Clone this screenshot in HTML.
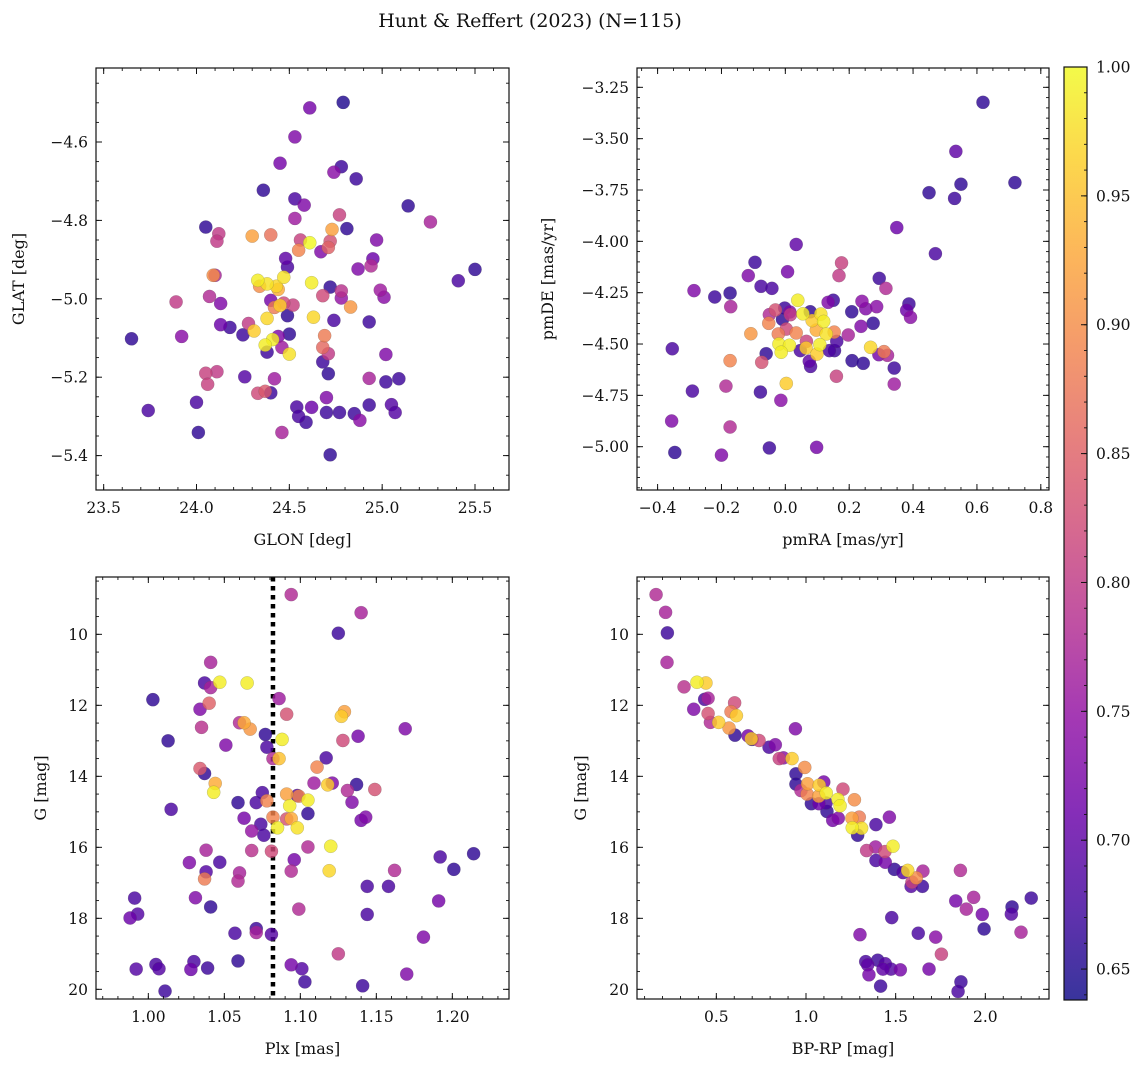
<!DOCTYPE html>
<html><head><meta charset="utf-8"><style>
html,body{margin:0;padding:0;background:#fff;}
svg text{font-family:"DejaVu Serif","Liberation Serif",serif;fill:#111;}
</style></head><body>
<svg id="fig" width="1148" height="1067" viewBox="0 0 1148 1067" xmlns="http://www.w3.org/2000/svg">
<defs><linearGradient id="cbgrad" x1="0" y1="1" x2="0" y2="0">
<stop offset="0" stop-color="#0d0887"/><stop offset="0.1" stop-color="#41049d"/><stop offset="0.2" stop-color="#6a00a8"/><stop offset="0.3" stop-color="#8f0da4"/><stop offset="0.4" stop-color="#b12a90"/><stop offset="0.5" stop-color="#cc4778"/><stop offset="0.6" stop-color="#e16462"/><stop offset="0.7" stop-color="#f2844b"/><stop offset="0.8" stop-color="#fca636"/><stop offset="0.9" stop-color="#fcce25"/><stop offset="1" stop-color="#f0f921"/></linearGradient></defs>
<text x="530" y="27" font-size="19" text-anchor="middle">Hunt &amp; Reffert (2023) (N=115)</text>
</svg>
<script>
// ---------- Panel 1 data: GLON / GLAT ----------
const p1Glon=[24.61,24.79,24.53,24.45,24.78,24.74,24.86,24.36,24.53,24.58,25.14,24.53,24.77,25.26,24.05,24.81,24.12,24.11,24.30,24.40,24.73,24.56,24.61,24.55,24.72,24.71,24.67,24.97,24.48,24.49,24.95,24.94,24.87,25.41,25.50,24.09,24.10,24.33,24.38,24.43,24.47,24.44,24.34,24.62,24.72,24.78,24.78,24.68,24.99,25.01,24.07,23.89,24.13,24.40,24.47,24.52,24.42,24.45,24.83,24.49,24.38,24.63,24.74,24.93,24.13,24.18,24.28,24.31,24.25,24.50,24.44,23.92,23.65,24.69,24.41,24.37,24.46,24.38,24.50,24.68,24.71,25.02,24.68,24.71,24.05,24.11,24.06,24.26,24.42,24.93,25.02,25.09,24.33,24.37,24.40,24.70,24.00,23.74,24.54,24.62,24.70,24.77,24.85,24.88,24.93,25.05,25.07,24.55,24.59,24.01,24.46,24.72];
const p1Glat=[-4.513,-4.499,-4.587,-4.654,-4.663,-4.677,-4.694,-4.723,-4.745,-4.761,-4.763,-4.795,-4.786,-4.804,-4.817,-4.821,-4.834,-4.853,-4.84,-4.837,-4.823,-4.85,-4.857,-4.876,-4.853,-4.869,-4.88,-4.85,-4.897,-4.919,-4.898,-4.916,-4.924,-4.954,-4.925,-4.94,-4.94,-4.953,-4.962,-4.968,-4.945,-4.976,-4.968,-4.959,-4.97,-4.98,-4.998,-4.992,-4.978,-4.996,-4.994,-5.008,-5.012,-5.004,-5.011,-5.016,-5.022,-5.017,-5.021,-5.043,-5.05,-5.047,-5.055,-5.059,-5.066,-5.073,-5.063,-5.082,-5.092,-5.09,-5.096,-5.096,-5.102,-5.094,-5.104,-5.118,-5.124,-5.136,-5.141,-5.124,-5.14,-5.142,-5.161,-5.191,-5.19,-5.186,-5.218,-5.199,-5.204,-5.203,-5.212,-5.204,-5.241,-5.236,-5.24,-5.252,-5.264,-5.285,-5.276,-5.277,-5.29,-5.29,-5.293,-5.31,-5.271,-5.27,-5.29,-5.30,-5.315,-5.341,-5.341,-5.398];
const p1Prob=[0.72,0.65,0.73,0.72,0.67,0.74,0.67,0.66,0.68,0.73,0.66,0.76,0.81,0.77,0.66,0.66,0.80,0.80,0.92,0.87,0.92,0.81,1.0,0.89,0.83,0.85,0.73,0.73,0.70,0.68,0.71,0.78,0.73,0.68,0.66,0.90,0.77,0.99,0.98,0.97,0.98,0.93,0.90,0.99,0.66,0.79,0.75,0.82,0.76,0.74,0.78,0.80,0.73,0.72,0.82,0.81,0.88,0.96,0.91,0.66,0.97,0.97,0.68,0.67,0.71,0.67,0.80,0.96,0.67,0.66,0.73,0.74,0.66,0.88,0.99,0.99,0.76,0.67,0.98,0.86,0.80,0.73,0.67,0.66,0.81,0.80,0.81,0.69,0.76,0.77,0.67,0.67,0.82,0.84,0.67,0.73,0.68,0.68,0.68,0.71,0.67,0.67,0.67,0.74,0.67,0.69,0.69,0.68,0.67,0.66,0.77,0.66];
// ---------- Panel 2 data: pmRA / pmDE ----------
const p2Pmra=[0.619,0.534,0.550,0.719,0.450,0.530,0.349,0.470,0.034,-0.095,0.007,-0.116,0.176,0.168,-0.286,-0.221,-0.173,-0.171,-0.076,-0.042,0.294,0.315,0.039,0.150,0.134,0.240,0.252,0.286,0.208,0.387,0.380,0.392,-0.002,0.014,0.078,0.055,0.111,-0.031,-0.050,0.016,-0.009,-0.052,0.084,0.120,0.003,0.034,0.097,0.128,0.153,-0.108,-0.022,0.197,0.237,0.275,0.066,0.161,-0.020,0.013,0.108,0.065,0.047,0.099,0.138,0.154,-0.013,-0.060,0.267,0.293,0.309,0.320,0.209,0.244,0.341,0.075,0.079,-0.173,-0.074,-0.354,0.160,0.341,0.003,-0.291,-0.186,-0.078,-0.014,-0.356,-0.173,-0.050,0.098,-0.346,-0.200];
const p2Pmde=[-3.323,-3.562,-3.722,-3.714,-3.763,-3.791,-3.933,-4.06,-4.015,-4.102,-4.148,-4.167,-4.105,-4.167,-4.24,-4.271,-4.252,-4.318,-4.219,-4.229,-4.18,-4.229,-4.287,-4.287,-4.297,-4.292,-4.328,-4.318,-4.343,-4.305,-4.336,-4.37,-4.325,-4.344,-4.343,-4.353,-4.354,-4.334,-4.357,-4.357,-4.38,-4.399,-4.386,-4.39,-4.427,-4.446,-4.432,-4.451,-4.442,-4.45,-4.451,-4.456,-4.414,-4.399,-4.487,-4.487,-4.50,-4.506,-4.503,-4.519,-4.532,-4.549,-4.532,-4.532,-4.54,-4.547,-4.516,-4.552,-4.537,-4.555,-4.581,-4.594,-4.617,-4.584,-4.609,-4.581,-4.589,-4.523,-4.657,-4.695,-4.692,-4.729,-4.705,-4.734,-4.774,-4.875,-4.904,-5.006,-5.003,-5.028,-5.041];
const p2Prob=[0.66,0.70,0.66,0.66,0.66,0.67,0.71,0.68,0.70,0.67,0.72,0.73,0.81,0.80,0.73,0.67,0.66,0.77,0.68,0.68,0.67,0.78,0.99,0.67,0.73,0.74,0.73,0.74,0.66,0.67,0.71,0.74,0.67,0.73,0.66,0.99,0.98,0.83,0.78,0.80,0.66,0.89,0.96,0.99,0.82,0.89,0.93,0.98,0.89,0.91,0.88,0.77,0.73,0.66,0.81,0.68,0.99,0.99,0.99,0.96,0.68,0.96,0.68,0.67,0.99,0.66,0.97,0.72,0.88,0.77,0.66,0.66,0.67,0.70,0.68,0.89,0.83,0.68,0.81,0.76,0.96,0.68,0.78,0.67,0.74,0.73,0.78,0.67,0.72,0.66,0.73];
// ---------- Panel 3 data: Plx / G ----------
const p3Plx=[1.094,1.140,1.125,1.041,1.037,1.047,1.065,1.041,1.003,1.086,1.040,1.034,1.091,1.129,1.127,1.035,1.060,1.063,1.067,1.169,1.013,1.077,1.078,1.088,1.051,1.128,1.138,1.082,1.086,1.117,1.111,1.034,1.037,1.044,1.043,1.109,1.121,1.118,1.137,1.131,1.149,1.075,1.059,1.071,1.078,1.091,1.098,1.099,1.105,1.093,1.134,1.015,1.105,1.063,1.082,1.091,1.094,1.140,1.143,1.074,1.085,1.098,1.068,1.076,1.038,1.068,1.081,1.105,1.120,1.027,1.047,1.096,1.192,1.214,1.038,1.037,1.060,1.059,1.094,1.119,1.162,1.201,1.144,1.158,0.991,1.031,1.041,1.099,1.191,0.993,0.988,1.144,1.057,1.071,1.071,1.081,1.181,1.125,1.059,1.005,1.007,0.992,1.030,1.028,1.039,1.094,1.101,1.170,1.103,1.141,1.011];
const p3G=[8.88,9.39,9.97,10.79,11.37,11.35,11.37,11.50,11.84,11.81,11.94,12.11,12.25,12.18,12.31,12.62,12.49,12.49,12.67,12.66,13.00,12.82,13.18,12.96,13.12,12.99,12.87,13.50,13.50,13.48,13.74,13.78,13.92,14.20,14.45,14.19,14.19,14.24,14.23,14.40,14.37,14.46,14.74,14.74,14.69,14.50,14.54,14.56,14.67,14.83,14.73,14.93,15.05,15.18,15.15,15.20,15.19,15.24,15.15,15.35,15.45,15.45,15.54,15.66,16.08,16.09,16.11,15.99,15.97,16.43,16.42,16.35,16.27,16.18,16.69,16.89,16.72,16.95,16.67,16.66,16.65,16.62,17.10,17.10,17.43,17.42,17.68,17.74,17.51,17.88,17.99,17.89,18.42,18.29,18.40,18.45,18.53,19.00,19.20,19.30,19.42,19.43,19.22,19.44,19.40,19.31,19.42,19.57,19.79,19.90,20.05];
const p3Prob=[0.78,0.77,0.67,0.77,0.68,0.99,0.99,0.77,0.66,0.76,0.85,0.73,0.83,0.92,0.96,0.79,0.78,0.93,0.91,0.73,0.66,0.66,0.68,0.99,0.73,0.82,0.72,0.78,0.95,0.68,0.89,0.84,0.66,0.93,0.99,0.76,0.73,0.96,0.66,0.78,0.83,0.68,0.66,0.68,0.89,0.92,0.69,0.89,0.99,0.99,0.73,0.68,0.66,0.72,0.89,0.83,0.93,0.72,0.73,0.68,0.99,0.98,0.75,0.68,0.77,0.79,0.82,0.78,0.99,0.73,0.68,0.72,0.68,0.66,0.69,0.88,0.77,0.78,0.78,0.97,0.78,0.66,0.68,0.68,0.68,0.73,0.66,0.78,0.72,0.69,0.71,0.68,0.68,0.67,0.77,0.69,0.73,0.80,0.66,0.68,0.69,0.69,0.68,0.71,0.67,0.72,0.69,0.73,0.67,0.67,0.67];
const p3RefPlx=1.082;
// ---------- Panel 4 data: BP-RP / G ----------
const p4Bprp=[0.164,0.217,0.227,0.225,0.320,0.392,0.442,0.435,0.454,0.374,0.602,0.582,0.612,0.454,0.467,0.513,0.571,0.604,0.941,0.677,0.699,0.695,0.738,0.794,0.829,0.851,0.874,0.922,0.993,0.944,0.944,1.099,0.972,1.009,1.074,1.206,1.006,1.071,1.113,1.178,1.270,1.190,1.030,1.072,1.112,1.117,1.149,1.180,1.256,1.297,1.258,1.310,1.288,1.390,1.465,1.338,1.388,1.440,1.485,1.390,1.442,1.493,1.541,1.567,1.652,1.615,1.591,1.586,1.649,1.861,1.835,1.935,1.894,1.983,2.149,2.145,2.256,2.199,1.993,1.478,1.301,1.626,1.723,1.755,1.333,1.344,1.400,1.442,1.429,1.474,1.351,1.526,1.686,1.416,1.864,1.848];
const p4G=[8.88,9.38,9.96,10.79,11.48,11.35,11.37,11.83,11.80,12.11,11.93,12.18,12.29,12.23,12.48,12.48,12.64,12.84,12.66,12.86,12.96,12.94,12.99,13.18,13.11,13.50,13.48,13.50,13.75,13.93,14.22,14.16,14.40,14.21,14.25,14.36,14.50,14.56,14.47,14.65,14.66,14.83,14.77,14.77,14.75,14.99,15.24,15.18,15.18,15.15,15.45,15.46,15.66,15.36,15.15,16.09,15.99,16.12,15.97,16.37,16.42,16.62,16.71,16.65,16.67,16.86,16.98,17.10,17.10,16.65,17.51,17.41,17.74,17.89,17.68,17.88,17.43,18.39,18.30,17.98,18.46,18.42,18.53,19.01,19.22,19.31,19.18,19.28,19.43,19.43,19.59,19.45,19.43,19.91,19.79,20.06];
const p4Prob=[0.78,0.77,0.67,0.77,0.79,0.99,0.96,0.68,0.77,0.73,0.82,0.88,0.96,0.83,0.78,0.96,0.91,0.66,0.73,0.72,0.66,0.96,0.82,0.68,0.73,0.81,0.74,0.96,0.90,0.66,0.66,0.72,0.78,0.92,0.96,0.82,0.89,0.92,0.99,0.99,0.90,0.99,0.66,0.71,0.68,0.66,0.72,0.73,0.92,0.88,0.99,0.98,0.66,0.68,0.73,0.80,0.76,0.82,0.99,0.68,0.72,0.66,0.69,0.97,0.77,0.90,0.81,0.69,0.67,0.78,0.72,0.77,0.77,0.72,0.66,0.69,0.67,0.77,0.66,0.68,0.73,0.68,0.74,0.81,0.68,0.70,0.67,0.69,0.70,0.69,0.72,0.72,0.72,0.67,0.67,0.68];
// ---------- Tick values ----------
const p1XTicks=[23.5,24.0,24.5,25.0,25.5];
const p1YTicks=[-4.6,-4.8,-5.0,-5.2,-5.4];
const p2XTicks=[-0.4,-0.2,0.0,0.2,0.4,0.6,0.8];
const p2YTicks=[-3.25,-3.5,-3.75,-4.0,-4.25,-4.5,-4.75,-5.0];
const p3XTicks=[1.00,1.05,1.10,1.15,1.20];
const gTicks=[10,12,14,16,18,20];
const p4XTicks=[0.5,1.0,1.5,2.0];
const cbTicks=[0.65,0.70,0.75,0.80,0.85,0.90,0.95,1.00];
const cbMin=0.638, cbMax=1.0;

const NS="http://www.w3.org/2000/svg";
const fig=document.getElementById('fig');
function mk(tag,attrs,parent){const e=document.createElementNS(NS,tag);for(const k in attrs)e.setAttribute(k,attrs[k]);(parent||fig).appendChild(e);return e;}
function lin(d0,r0,d1,r1){return v=>r0+(v-d0)*(r1-r0)/(d1-d0);}
const stops=[[13,8,135],[65,4,157],[106,0,168],[143,13,164],[177,42,144],[204,71,120],[225,100,98],[242,132,75],[252,166,54],[252,206,37],[240,249,33]];
function plasma(p){let t=(p-cbMin)/(cbMax-cbMin);t=Math.max(0,Math.min(1,t))*10;const i=Math.min(9,Math.floor(t)),f=t-i;const a=stops[i],b=stops[i+1];return 'rgb('+a.map((c,j)=>Math.round(c+(b[j]-c)*f)).join(',')+')';}
function fmt(v,d){return (v<0?'\u2212':'')+Math.abs(v).toFixed(d);}

function panel(o){
  const g=mk('g',{});
  
  
  const {L,R,T,B}=o;
  const sx=o.sx, sy=o.sy;
  const clipId=o.name+'-clip';
  const cp=mk('clipPath',{id:clipId},g);mk('rect',{x:L,y:T,width:R-L,height:B-T},cp);
  const pts=mk('g',{'clip-path':'url(#'+clipId+')'},g);
  
  
  if(o.extra)o.extra(pts);
  const idx=o.xs.map((_,i)=>i).sort((a,b)=>o.cs[a]-o.cs[b]);
  idx.forEach(i=>{
    const c=mk('circle',{cx:sx(o.xs[i]),cy:sy(o.ys[i]),r:6.6,fill:plasma(o.cs[i]),'fill-opacity':0.82,stroke:'#555','stroke-width':0.3,'stroke-opacity':0.6},pts);
    
    
  });
  const box=mk('rect',{x:L,y:T,width:R-L,height:B-T,fill:'none',stroke:'#111','stroke-width':1.2},g);
  
  
  // x ticks
  const xa=sx.inv, ya=sy.inv;
  const xlo=Math.min(xa(L),xa(R)), xhi=Math.max(xa(L),xa(R));
  for(let v=Math.ceil(xlo/o.xMinor-1e-6)*o.xMinor;v<=xhi+1e-9;v+=o.xMinor){const x=sx(v);mk('line',{x1:x,x2:x,y1:B,y2:B-3,stroke:'#111','stroke-width':0.9},g);mk('line',{x1:x,x2:x,y1:T,y2:T+3,stroke:'#111','stroke-width':0.9},g);}
  const ylo=Math.min(ya(T),ya(B)), yhi=Math.max(ya(T),ya(B));
  for(let v=Math.ceil(ylo/o.yMinor-1e-6)*o.yMinor;v<=yhi+1e-9;v+=o.yMinor){const y=sy(v);mk('line',{x1:L,x2:L+3,y1:y,y2:y,stroke:'#111','stroke-width':0.9},g);mk('line',{x1:R,x2:R-3,y1:y,y2:y,stroke:'#111','stroke-width':0.9},g);}
  o.xTicks.forEach(v=>{const x=sx(v);mk('line',{x1:x,x2:x,y1:B,y2:B-6,stroke:'#111','stroke-width':1},g);mk('line',{x1:x,x2:x,y1:T,y2:T+6,stroke:'#111','stroke-width':1},g);
    const t=mk('text',{x:x,y:B+23,'font-size':15.5,'text-anchor':'middle'},g);t.textContent=fmt(v,o.xDec);
    
    });
  o.yTicks.forEach(v=>{const y=sy(v);mk('line',{x1:L,x2:L+6,y1:y,y2:y,stroke:'#111','stroke-width':1},g);mk('line',{x1:R,x2:R-6,y1:y,y2:y,stroke:'#111','stroke-width':1},g);
    const t=mk('text',{x:L-8,y:y+5.5,'font-size':15.5,'text-anchor':'end'},g);t.textContent=fmt(v,o.yDec);
    
    });
  const xl=mk('text',{x:(L+R)/2,y:B+55,'font-size':16,'text-anchor':'middle'},g);xl.textContent=o.xLabel;
  
  
  const yl=mk('text',{x:o.yLabX,y:(T+B)/2,'font-size':16,'text-anchor':'middle',transform:'rotate(-90 '+o.yLabX+' '+(T+B)/2+')'},g);yl.textContent=o.yLabel;
  
  
}
function scale(d0,r0,d1,r1){const f=lin(d0,r0,d1,r1);f.inv=lin(r0,d0,r1,d1);return f;}

panel({name:'glon-glat-panel',L:96,R:509,T:68,B:490,
  sx:scale(23.5,103.67,25.5,475),sy:scale(-4.6,142,-5.4,455.6),
  xs:p1Glon,ys:p1Glat,cs:p1Prob,xTicks:p1XTicks,yTicks:p1YTicks,xMinor:0.1,yMinor:0.05,xDec:1,yDec:1,
  xLabel:'GLON [deg]',yLabel:'GLAT [deg]',yLabX:24});
panel({name:'pm-panel',L:637,R:1049,T:68,B:490,
  sx:scale(0,785.33,0.8,1040.8),sy:scale(-3.25,87.33,-5.0,446.7),
  xs:p2Pmra,ys:p2Pmde,cs:p2Prob,xTicks:p2XTicks,yTicks:p2YTicks,xMinor:0.05,yMinor:0.05,xDec:1,yDec:2,
  xLabel:'pmRA [mas/yr]',yLabel:'pmDE [mas/yr]',yLabX:553});
panel({name:'plx-g-panel',L:96,R:509,T:577,B:999,
  sx:scale(1.0,148.33,1.2,452.33),sy:scale(10,634.33,20,989.33),
  xs:p3Plx,ys:p3G,cs:p3Prob,xTicks:p3XTicks,yTicks:gTicks,xMinor:0.01,yMinor:0.5,xDec:2,yDec:0,
  xLabel:'Plx [mas]',yLabel:'G [mag]',yLabX:46,
  extra:function(gp){const sx=scale(1.0,148.33,1.2,452.33);const x=sx(p3RefPlx);
    const l=mk('line',{x1:x,x2:x,y1:577,y2:999,stroke:'#000','stroke-width':4.5,'stroke-dasharray':'4.5 4.5'},gp);
    
    }});
panel({name:'cmd-panel',L:637,R:1049,T:577,B:999,
  sx:scale(0.5,716.33,2.0,985.33),sy:scale(10,634.33,20,989.33),
  xs:p4Bprp,ys:p4G,cs:p4Prob,xTicks:p4XTicks,yTicks:gTicks,xMinor:0.1,yMinor:0.5,xDec:1,yDec:0,
  xLabel:'BP-RP [mag]',yLabel:'G [mag]',yLabX:586});

// colorbar
const cb=mk('g',{});


const cbX=1064,cbW=23,cbT=67,cbB=1000;
const cy=scale(cbMin,cbB,cbMax,cbT);
mk('rect',{x:cbX,y:cbT,width:cbW,height:cbB-cbT,fill:'url(#cbgrad)','fill-opacity':0.82},cb);
mk('rect',{x:cbX,y:cbT,width:cbW,height:cbB-cbT,fill:'none',stroke:'#111','stroke-width':1.2},cb);
for(let v=0.64;v<=1.0001;v+=0.01){const y=cy(v);mk('line',{x1:cbX+cbW,x2:cbX+cbW-3,y1:y,y2:y,stroke:'#111','stroke-width':0.9},cb);}
cbTicks.forEach(v=>{const y=cy(v);mk('line',{x1:cbX+cbW,x2:cbX+cbW-6,y1:y,y2:y,stroke:'#111','stroke-width':1},cb);
  const t=mk('text',{x:cbX+cbW+9,y:y+5.5,'font-size':15.5},cb);t.textContent=v.toFixed(2);
  
  });
</script>
</body></html>
